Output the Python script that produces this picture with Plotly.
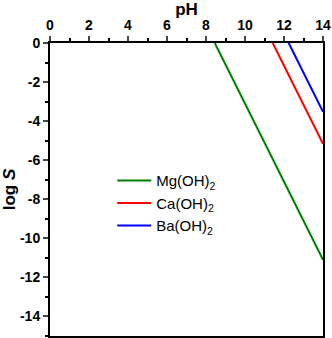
import plotly.graph_objects as go

names = ["Mg(OH)<sub>2</sub>", "Ca(OH)<sub>2</sub>", "Ba(OH)<sub>2</sub>"]
colors = ["#008000", "#ff0000", "#0000ff"]
ph_start = [8.45, 11.42, 12.24]
ph_end = [14, 14, 14]
logs_start = [0, 0, 0]
logs_end = [-11.1, -5.16, -3.52]

x_ticks = [0, 2, 4, 6, 8, 10, 12, 14]
y_ticks = [0, -2, -4, -6, -8, -10, -12, -14]

fig = go.Figure()
for i, n in enumerate(names):
    fig.add_trace(go.Scatter(
        x=[ph_start[i], ph_end[i]], y=[logs_start[i], logs_end[i]],
        mode="lines", name=n, line=dict(color=colors[i], width=2),
        legendgroup=str(i)))

font = "Liberation Sans, Arial, sans-serif"
fig.update_layout(
    width=332, height=338,
    margin=dict(l=50, r=9, t=43, b=2),
    plot_bgcolor="white", paper_bgcolor="white",
    font=dict(family=font, color="black"),
    showlegend=True,
    legend=dict(x=0.228, y=0.586, xanchor="left", yanchor="top",
                font=dict(size=15), bgcolor="rgba(0,0,0,0)",
                traceorder="grouped", tracegroupgap=0, itemwidth=34),
    xaxis=dict(range=[0, 14], side="top", tickvals=x_ticks,
               ticktext=["<b>%d</b>" % v for v in x_ticks], ticks="outside", ticklen=5,
               tickwidth=2, showline=True, linewidth=2, linecolor="black",
               mirror=True, showgrid=False, zeroline=False, automargin=False,
               minor=dict(dtick=1, ticks="outside", ticklen=3, tickwidth=2, tickcolor="black"),
               tickfont=dict(size=14, family=font, weight="bold"),
               title=dict(text="<b>pH</b>", font=dict(size=17), standoff=3)),
    yaxis=dict(range=[-15, 0], tickvals=y_ticks,
               ticktext=["<b>%d</b>" % v for v in y_ticks], ticks="outside", ticklen=5,
               tickwidth=2, showline=True, linewidth=2, linecolor="black",
               mirror=True, showgrid=False, zeroline=False, automargin=False,
               minor=dict(dtick=1, ticks="outside", ticklen=3, tickwidth=2, tickcolor="black"),
               tickfont=dict(size=14, family=font, weight="bold"),
               title=dict(text="<b>log <i>S</i></b>", font=dict(size=17), standoff=3)),
)
fig.write_html("out.html", config={"displayModeBar": False},
               post_script="document.body.style.margin='0';document.body.style.overflow='hidden';")
